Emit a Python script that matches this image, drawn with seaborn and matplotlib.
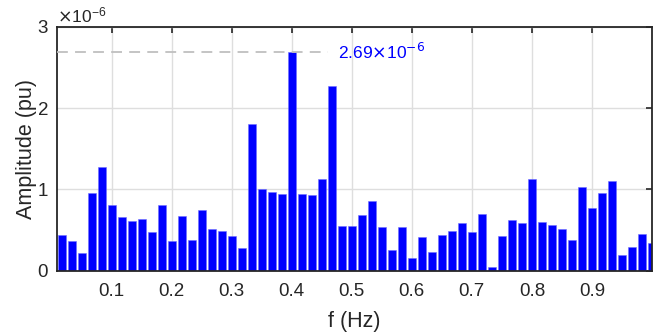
import matplotlib
matplotlib.use("Agg")
import matplotlib.pyplot as plt
import seaborn as sns
import pandas as pd
from matplotlib.ticker import ScalarFormatter

# FFT bin frequencies (Hz)
freq = [0.0167, 0.0333, 0.0500, 0.0667, 0.0833, 0.1000, 0.1167, 0.1333, 0.1500, 0.1667,
        0.1833, 0.2000, 0.2167, 0.2333, 0.2500, 0.2667, 0.2833, 0.3000, 0.3167, 0.3333,
        0.3500, 0.3667, 0.3833, 0.4000, 0.4167, 0.4333, 0.4500, 0.4667, 0.4833, 0.5000,
        0.5167, 0.5333, 0.5500, 0.5667, 0.5833, 0.6000, 0.6167, 0.6333, 0.6500, 0.6667,
        0.6833, 0.7000, 0.7167, 0.7333, 0.7500, 0.7667, 0.7833, 0.8000, 0.8167, 0.8333,
        0.8500, 0.8667, 0.8833, 0.9000, 0.9167, 0.9333, 0.9500, 0.9667, 0.9833, 1.0000]

# Amplitudes in units of 1e-6 pu
amp_e6 = [0.44, 0.365, 0.214, 0.956, 1.275, 0.808, 0.66, 0.611, 0.636, 0.476,
          0.804, 0.365, 0.677, 0.381, 0.743, 0.509, 0.488, 0.43, 0.277, 1.81,
          1.005, 0.964, 0.94, 2.69, 0.943, 0.931, 1.128, 2.268, 0.546, 0.55,
          0.685, 0.861, 0.541, 0.258, 0.534, 0.152, 0.41, 0.234, 0.439, 0.488,
          0.583, 0.472, 0.694, 0.05, 0.43, 0.624, 0.583, 1.132, 0.603, 0.558,
          0.509, 0.378, 1.033, 0.775, 0.959, 1.1, 0.189, 0.288, 0.448, 0.337]

peak_value_e6 = 2.69
peak_label = r"2.69$\times$10$^{-6}$"

xticks = [0.1, 0.2, 0.3, 0.4, 0.5, 0.6, 0.7, 0.8, 0.9]
yticks = [0, 1e-6, 2e-6, 3e-6]

df = pd.DataFrame({"f": freq, "amp": [a * 1e-6 for a in amp_e6]})

sns.set_style("white")
plt.rcParams['font.family'] = ['Liberation Sans', 'DejaVu Sans']

fig = plt.figure(figsize=(6.72, 3.34), dpi=100)
ax = fig.add_axes([0.0853, 0.1895, 0.8849, 0.7305])

ax.grid(True, color="#dedede", linewidth=1.0, zorder=0)
ax.set_axisbelow(True)

sns.barplot(data=df, x="f", y="amp", native_scale=True, color="#0000ff",
            saturation=1, width=0.8, edgecolor="#6f6fff", linewidth=0.4, ax=ax, zorder=2)

ax.set_xlim(0.0095, 1.0)
ax.set_ylim(0, 3e-6)
ax.set_xticks(xticks)
ax.set_xticklabels([f"{t:.1f}" for t in xticks])
ax.set_yticks(yticks)

fmt = ScalarFormatter(useMathText=True)
fmt.set_powerlimits((-3, 3))
ax.yaxis.set_major_formatter(fmt)
ax.yaxis.get_offset_text().set_fontsize(12.5)
ax.yaxis.get_offset_text().set_color("#262626")

ax.tick_params(direction="in", top=True, right=True, length=4, width=1.2,
               labelsize=13.5, colors="#262626")
ax.tick_params(axis="x", pad=9)
ax.tick_params(axis="y", pad=6)
for s in ax.spines.values():
    s.set_color("#262626")
    s.set_linewidth(1.3)

# dashed reference line at the peak
ax.plot([0.0095, 0.4605], [peak_value_e6 * 1e-6] * 2, ls=(0, (6, 4)),
        color="#bfbfbf", lw=1.3, zorder=3)
ax.text(0.477, peak_value_e6 * 1e-6, peak_label, color="#0000ff", fontsize=12.5,
        va="center", ha="left", zorder=4)

ax.set_xlabel("f (Hz)", fontsize=15.5, color="#262626", labelpad=8)
ax.set_ylabel("Amplitude (pu)", fontsize=15.5, color="#262626", labelpad=0)

fig.savefig("out.png", dpi=100)
